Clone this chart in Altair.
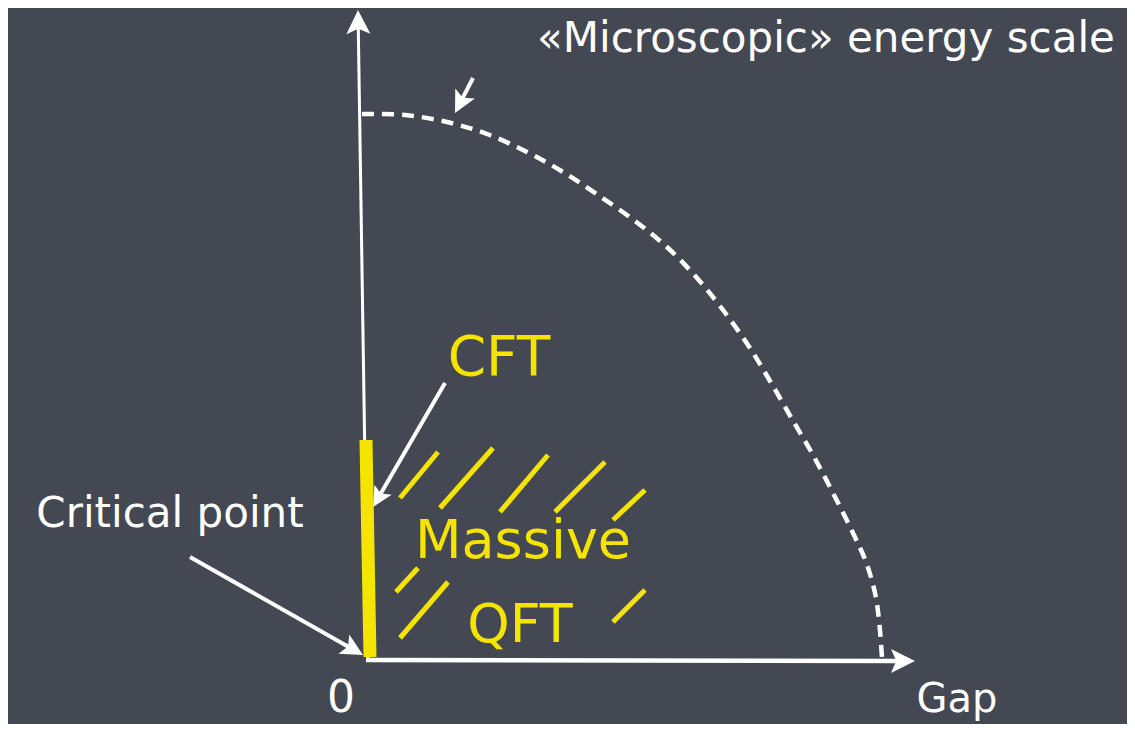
import math
import altair as alt
import pandas as pd

BG = "#444852"
WHITE = "#ffffff"
YELLOW = "#f5e400"
FONT = "DejaVu Sans"

# ---- arrows (image pixel coordinates: tail -> tip) ----
arrow_names = ["energy axis", "gap axis", "scale pointer", "cft pointer", "critical pointer"]
arrow_tail_x = [368, 366, 473, 445, 190]
arrow_tail_y = [660, 660, 78, 383, 557]
arrow_tip_x = [358, 915, 455, 373, 363]
arrow_tip_y = [10, 661, 113, 507, 655]
arrow_width = [3, 4.5, 4, 4, 4]
arrow_head = [24, 24, 22, 20, 22]

# ---- dashed «microscopic» boundary curve ----
curve_x = [362, 405, 447, 487, 527, 563, 598, 635, 668, 697, 723, 748, 770, 792,
           813, 833, 853, 866, 875, 879, 882]
curve_y = [114, 115, 122, 134, 152, 172, 195, 221, 248, 278, 310, 345, 381, 419,
           455, 493, 533, 562, 593, 620, 658]

# ---- yellow CFT segment on the vertical axis ----
cft_x = [366]
cft_y = [440]
cft_x2 = [370]
cft_y2 = [657]

# ---- yellow hatch strokes (massive QFT region) ----
hatch_x1 = [400, 440, 500, 555, 613, 396, 400, 613]
hatch_y1 = [498, 508, 512, 512, 520, 592, 638, 622]
hatch_x2 = [438, 493, 548, 605, 645, 418, 448, 645]
hatch_y2 = [452, 448, 455, 462, 490, 568, 582, 590]

# ---- yellow arc fragment at the left edge ----
arc_x = [-3, 1, 4, 5, 4, 1, -3]
arc_y = [448, 463, 479, 495, 511, 527, 543]

# ---- labels ----
label_text = ["«Microscopic» energy scale", "CFT", "Massive", "QFT",
              "Critical point", "0", "Gap"]
label_x = [826, 499, 523, 520, 170, 341, 957]
label_y = [52, 375, 558, 642, 527, 712, 712]
label_size = [42, 55, 54, 54, 42, 44, 40]
label_color = [WHITE, YELLOW, YELLOW, YELLOW, WHITE, WHITE, WHITE]

# ---------------------------------------------------------------
W, H = 1119, 716
xs = alt.Scale(domain=[8, 8 + W], nice=False, zero=False)
ys = alt.Scale(domain=[8 + H, 8], nice=False, zero=False)

def X(f="x"):
    return alt.X(f"{f}:Q", scale=xs, axis=None)

def Y(f="y"):
    return alt.Y(f"{f}:Q", scale=ys, axis=None)

# arrow shafts and heads
shaft_rows, head_rows = [], []
for n, tx, ty, px, py, w, L in zip(arrow_names, arrow_tail_x, arrow_tail_y,
                                   arrow_tip_x, arrow_tip_y, arrow_width, arrow_head):
    dx, dy = px - tx, py - ty
    d = math.hypot(dx, dy)
    ux, uy = dx / d, dy / d
    ex, ey = px - ux * 0.72 * L, py - uy * 0.72 * L
    shaft_rows.append(dict(name=n, x=tx, y=ty, x2=ex, y2=ey, w=w))
    ang = math.degrees(math.atan2(dx, -dy)) % 360
    head_rows.append(dict(name=n, x=px, y=py, angle=ang, size=4 * L * L))

shafts = alt.Chart(pd.DataFrame(shaft_rows)).mark_rule(
    color=WHITE, strokeCap="butt"
).encode(x=X(), y=Y(), x2="x2:Q", y2="y2:Q",
         strokeWidth=alt.StrokeWidth("w:Q", scale=None))

heads = alt.Chart(pd.DataFrame(head_rows)).mark_point(
    shape="M0,0L-0.5,1L0,0.78L0.5,1Z", filled=True, color=WHITE,
    opacity=1, strokeWidth=0
).encode(x=X(), y=Y(),
         angle=alt.Angle("angle:Q", scale=None),
         size=alt.Size("size:Q", scale=None))

curve = alt.Chart(pd.DataFrame({"x": curve_x, "y": curve_y,
                                "o": list(range(len(curve_x)))})).mark_line(
    color=WHITE, strokeWidth=4.5, strokeDash=[12, 8], interpolate="catmull-rom",
    strokeCap="butt"
).encode(x=X(), y=Y(), order="o:Q")

cft = alt.Chart(pd.DataFrame({"x": cft_x, "y": cft_y, "x2": cft_x2, "y2": cft_y2})).mark_rule(
    color=YELLOW, strokeWidth=13, strokeCap="butt"
).encode(x=X(), y=Y(), x2="x2:Q", y2="y2:Q")

hatch = alt.Chart(pd.DataFrame({"x": hatch_x1, "y": hatch_y1,
                                "x2": hatch_x2, "y2": hatch_y2})).mark_rule(
    color=YELLOW, strokeWidth=5, strokeCap="butt"
).encode(x=X(), y=Y(), x2="x2:Q", y2="y2:Q")

arc = alt.Chart(pd.DataFrame({"x": arc_x, "y": arc_y,
                              "o": list(range(len(arc_x)))})).mark_line(
    color=YELLOW, strokeWidth=5, interpolate="basis"
).encode(x=X(), y=Y(), order="o:Q")

labels = alt.Chart(pd.DataFrame({"t": label_text, "x": label_x, "y": label_y,
                                 "s": label_size, "c": label_color})).mark_text(
    font=FONT, align="center", baseline="alphabetic"
).encode(x=X(), y=Y(), text="t:N",
         size=alt.Size("s:Q", scale=None),
         color=alt.Color("c:N", scale=None))

chart = alt.layer(curve, arc, shafts, heads, cft, hatch, labels).properties(
    width=W, height=H, background=BG, padding=0,
    autosize=alt.AutoSizeParams(type="none")
).configure_view(stroke=None)

chart.save("out.html", embed_options={"renderer": "svg", "actions": False})
